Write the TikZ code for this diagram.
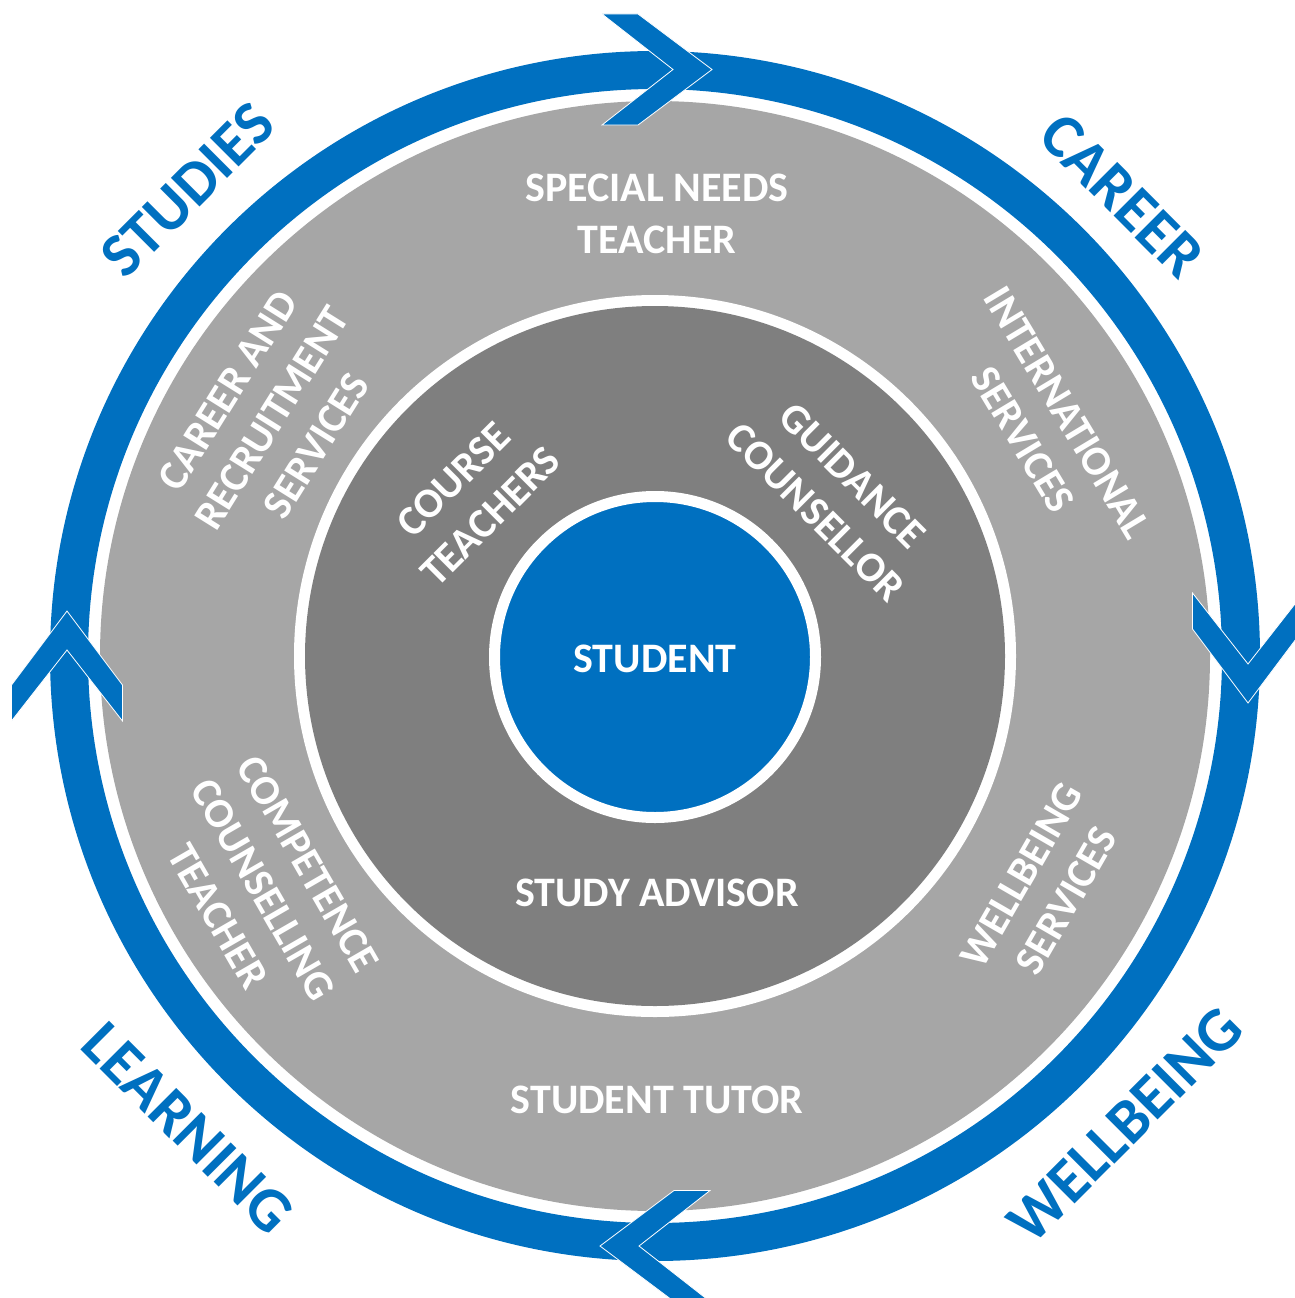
\documentclass[tikz,border=0pt]{standalone}
\usepackage{fontspec}
\setmainfont{Carlito}
\definecolor{ringblue}{HTML}{0070C0}
\definecolor{lightgrey}{HTML}{A6A6A6}
\definecolor{darkgrey}{HTML}{7F7F7F}
\tikzset{
  innertext/.style={text=white, font=\fontsize{42}{52}\selectfont\bfseries, align=center, inner sep=0pt},
  outertext/.style={text=ringblue, font=\fontsize{62.5}{72}\selectfont\bfseries, inner sep=0pt},
  chevronshape/.style={fill=ringblue, draw=white, line width=0.8pt, line join=miter}
}
\newcommand{\mychevron}[3]{\filldraw[chevronshape, shift={(#1,#2)}, rotate=#3] (-55,-55.5) -- (-19,-55.5) -- (55,0) -- (-19,55.5) -- (-55,55.5) -- (16,0) -- cycle;}
\begin{document}
\begin{tikzpicture}[x=1pt,y=-1pt]
\useasboundingbox (0,0) rectangle (1295,1298);
\fill[white] (0,0) rectangle (1295,1298);
\coordinate (c) at (655,656);
% outer light grey disk
\fill[lightgrey] (c) circle[radius=555];
% blue ring
\draw[ringblue, line width=38pt] (c) circle[radius=586];
% inner dark disk with white border
\fill[white] (c) circle[radius=361];
\fill[darkgrey] (c) circle[radius=350];
% student
\node[circle, fill=ringblue, draw=white, line width=11pt, minimum size=321pt, inner sep=0pt] (studentdisk) at (655,657) {};
\node[innertext] (student) at (655,659) {STUDENT};
% chevrons
\mychevron{657}{69.5}{0}
\mychevron{1248}{648}{-90}
\mychevron{655}{1246}{180}
\mychevron{67}{666}{90}
% outer ring texts
\node[outertext, rotate=45] (studies) at (188,190) {STUDIES};
\node[outertext, rotate=-45] (career) at (1122,196) {CAREER};
\node[outertext, rotate=-45] (learning) at (188,1128) {LEARNING};
\node[outertext, rotate=45] (wellbeing) at (1125,1125) {WELLBEING};
% light grey ring texts
\node[innertext] (special) at (657,214) {SPECIAL NEEDS\\TEACHER};
\node[innertext] (tutor) at (657,1100) {STUDENT TUTOR};
\node[innertext, rotate=58] (recruit) at (272,418) {CAREER AND\\RECRUITMENT\\SERVICES};
\node[innertext, rotate=-59] (intl) at (1045,426) {INTERNATIONAL\\SERVICES};
\node[innertext, rotate=60] (wellserv) at (1044,888) {WELLBEING\\SERVICES};
\node[innertext, rotate=-60] (competence) at (263,890) {COMPETENCE\\COUNSELLING\\TEACHER};
% dark grey ring texts
\node[innertext, rotate=45] (course) at (472,498) {COURSE\\TEACHERS};
\node[innertext, rotate=-45] (guidance) at (834,494) {GUIDANCE\\COUNSELLOR};
\node[innertext] (advisor) at (657,893) {STUDY ADVISOR};
\end{tikzpicture}
\end{document}
